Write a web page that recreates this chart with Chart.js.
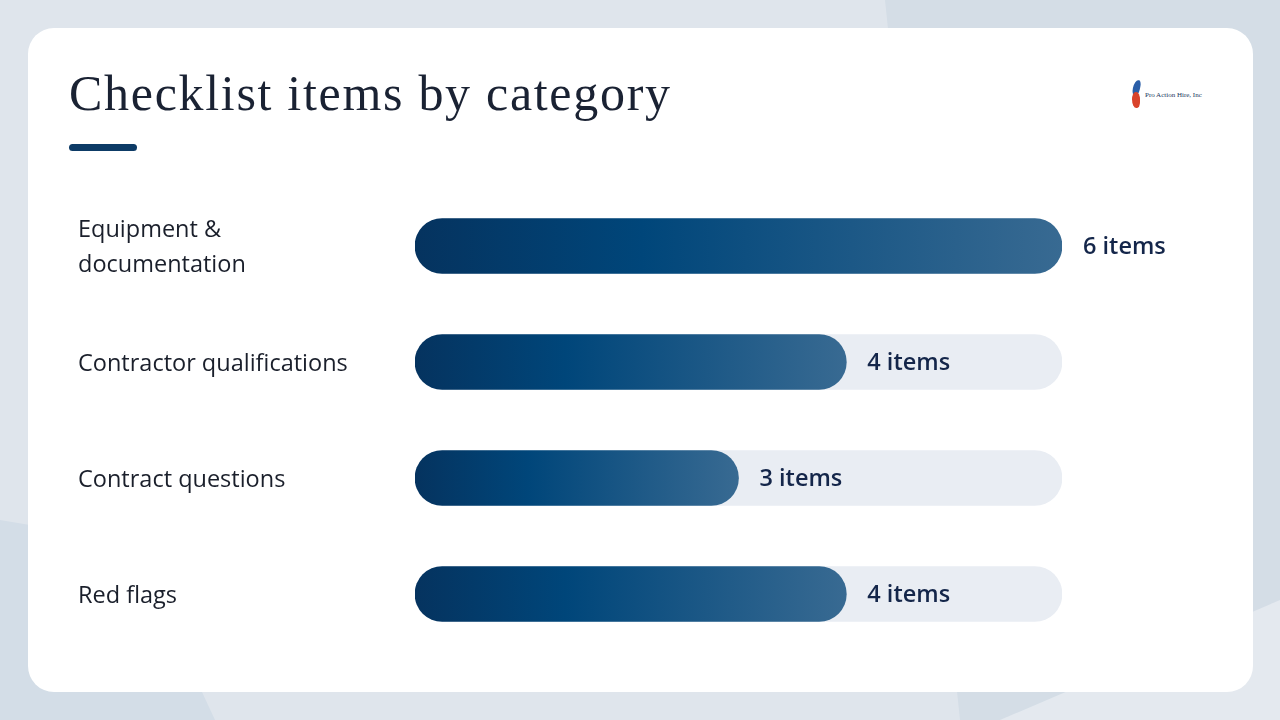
<!DOCTYPE html>
<html>
<head>
<meta charset="utf-8">
<script src="https://cdn.jsdelivr.net/npm/chart.js@4/dist/chart.umd.min.js"></script>
<style>
  html, body { margin: 0; padding: 0; }
  body { width: 1280px; height: 720px; position: relative; overflow: hidden; background: #dfe5ec; }
  .shape-tr { position: absolute; left: 0; top: 0; width: 1280px; height: 720px; background: #d4dde6; clip-path: polygon(885px 0, 1280px 0, 1280px 720px, 960px 720px); }
  .shape-bl { position: absolute; left: 0; top: 0; width: 1280px; height: 720px; background: #d3dde7; clip-path: polygon(0 520px, 60px 530px, 150px 580px, 215px 720px, 0 720px); }
  .shape-br { position: absolute; left: 0; top: 0; width: 1280px; height: 720px; background: #e4e9ef; clip-path: polygon(1000px 720px, 1280px 600px, 1280px 720px); }
  .card { position: absolute; left: 28px; top: 28px; width: 1225px; height: 664px; background: #ffffff; border-radius: 26px; }
  h1 { position: absolute; left: 69px; top: 64px; margin: 0; font: 400 50px "Liberation Serif", serif; color: #1a2233; letter-spacing: 1.7px; }
  .rule { position: absolute; left: 69px; top: 144px; width: 68px; height: 7px; border-radius: 4px; background: #0d3b66; }
  .logo { position: absolute; left: 1130px; top: 78px; width: 80px; height: 34px; }
  .logo .flame1 { position: absolute; left: 2px; top: 14px; width: 8px; height: 16px; background: #d9432b; border-radius: 50% 50% 40% 60%; }
  .logo .flame2 { position: absolute; left: 3px; top: 2px; width: 7px; height: 16px; background: #2a5ea8; border-radius: 60% 40% 50% 50%; transform: rotate(12deg); }
  .logo span { position: absolute; left: 15px; top: 13px; font: 400 7px "Liberation Serif", serif; color: #22365e; white-space: nowrap; }
  #wrap { position: absolute; left: 0; top: 0; width: 1280px; height: 720px; }
</style>
</head>
<body>
<div class="shape-tr"></div>
<div class="shape-bl"></div>
<div class="shape-br"></div>
<div class="card"></div>
<h1>Checklist items by category</h1>
<div class="rule"></div>
<div class="logo"><div class="flame2"></div><div class="flame1"></div><span>Pro Action Hire, Inc</span></div>
<div id="wrap"><canvas id="chart" width="1280" height="720"></canvas></div>
<script>
// data
const categories = [["Equipment &", "documentation"], "Contractor qualifications", "Contract questions", "Red flags"];
const itemCounts = [6, 4, 3, 4];
const axisMax = 6;
const trackValues = [axisMax, axisMax, axisMax, axisMax];

const labelFont = '"Open Sans", "Lato", sans-serif';

// value labels right after each bar
const valueLabels = {
  id: 'valueLabels',
  afterDatasetsDraw(chart) {
    const ctx = chart.ctx;
    const meta = chart.getDatasetMeta(1);
    ctx.save();
    ctx.font = '600 23.5px ' + labelFont;
    ctx.fillStyle = '#14264a';
    ctx.textBaseline = 'middle';
    meta.data.forEach((bar, i) => {
      ctx.fillText(itemCounts[i] + ' items', bar.x + 21, bar.y + 1);
    });
    ctx.restore();
  }
};

function barGradient(context) {
  const chart = context.chart;
  const xs = chart.scales.x;
  if (!xs || context.type !== 'data') return '#0d3b66';
  const x0 = xs.getPixelForValue(0);
  const x1 = xs.getPixelForValue(itemCounts[context.dataIndex]);
  if (!isFinite(x0) || !isFinite(x1) || x1 <= x0) return '#0d3b66';
  const g = chart.ctx.createLinearGradient(x0, 0, x1, 0);
  g.addColorStop(0, '#05335f');
  g.addColorStop(0.35, '#00467a');
  g.addColorStop(1, '#386a92');
  return g;
}

new Chart(document.getElementById('chart'), {
  type: 'bar',
  data: {
    labels: categories,
    datasets: [
      {
        label: 'track',
        data: trackValues,
        backgroundColor: '#e9edf3',
        borderRadius: 28,
        borderSkipped: false,
        barThickness: 55,
        grouped: false,
        order: 2
      },
      {
        label: 'Items',
        data: itemCounts,
        backgroundColor: barGradient,
        borderRadius: 28,
        borderSkipped: false,
        barThickness: 55,
        grouped: false,
        order: 1
      }
    ]
  },
  options: {
    indexAxis: 'y',
    responsive: false,
    animation: false,
    layout: { padding: { left: 78, right: 218, top: 188, bottom: 68 } },
    plugins: { legend: { display: false }, tooltip: { enabled: false } },
    scales: {
      x: { display: false, min: 0, max: axisMax },
      y: {
        grid: { display: false },
        border: { display: false },
        afterFit(scale) { scale.width = 337; },
        ticks: {
          crossAlign: 'far',
          color: '#1a1f2b',
          font: { family: labelFont, size: 23.5, lineHeight: 1.48 },
          labelOffset: 2,
          padding: 0
        }
      }
    }
  },
  plugins: [valueLabels]
});
</script>
</body>
</html>
